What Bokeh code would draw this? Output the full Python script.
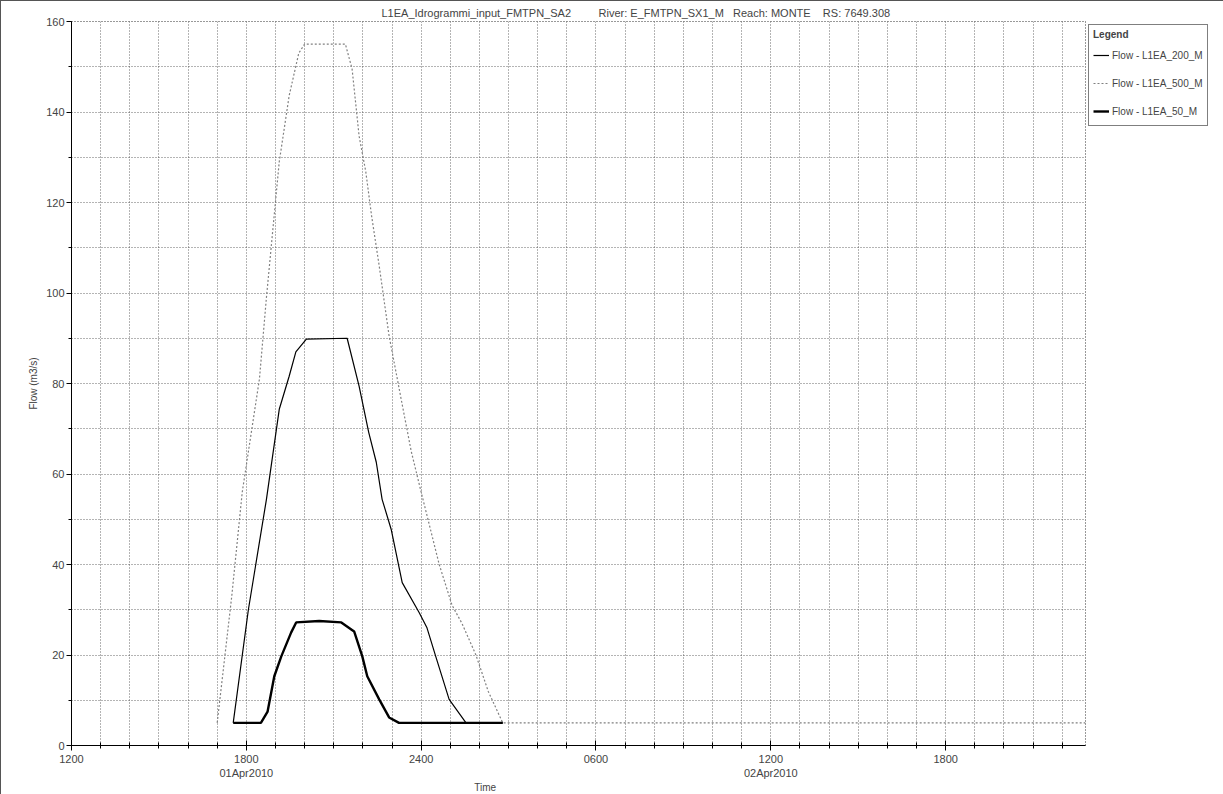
from bokeh.plotting import figure
from bokeh.models import Legend, LegendItem, SingleIntervalTicker, FixedTicker, LinearAxis, Range1d
from bokeh.embed import file_html
from bokeh.resources import INLINE

# hours since 01Apr2010 12:00
t_200 = [5.55, 6.07, 6.69, 7.13, 7.47, 7.7, 8.06, 9.46, 9.87, 10.2, 10.46, 10.66, 10.97, 11.35, 11.93, 12.2, 12.5, 12.96, 13.54, 14.8]
q_200 = [5, 30, 54.4, 74.3, 81.6, 87, 89.8, 90, 79.4, 69.2, 62.6, 54.4, 47.8, 36, 29.4, 26, 19.7, 10.2, 5, 5]

t_500 = [5.0, 5.5, 5.86, 6.45, 6.69, 7.13, 7.47, 7.8, 8.0, 9.4, 9.63, 9.87, 10.1, 10.3, 10.56, 10.9, 11.3, 11.66, 12.0, 12.62, 13.06, 13.4, 13.88, 14.3, 14.8, 34.8]
q_500 = [5, 33, 56, 81, 99, 129, 143.6, 153, 155, 155, 149.5, 134.7, 126.8, 117, 106, 90.5, 77, 65, 56, 40, 31, 27, 20, 12, 5, 5]

t_50 = [5.55, 6.5, 6.73, 6.96, 7.2, 7.54, 7.71, 8.5, 9.26, 9.7, 9.98, 10.15, 10.56, 10.9, 11.24, 14.8]
q_50 = [5, 5, 7.5, 15.3, 19.7, 25, 27.2, 27.5, 27.2, 25.2, 19.7, 15.3, 10.2, 6.2, 5, 5]

tick_hours = [0, 6, 12, 18, 24, 30]
tick_labels = ["1200", "1800\n01Apr2010", "2400", "0600", "1200\n02Apr2010", "1800"]
series_names = ["Flow - L1EA_200_M", "Flow - L1EA_500_M", "Flow - L1EA_50_M"]
NB = "\u00a0"
title_text = ("L1EA_Idrogrammi_input_FMTPN_SA2" + NB * 8 + " River: E_FMTPN_SX1_M" + NB * 2 +
              " Reach: MONTE" + NB * 3 + " RS: 7649.308")
x_label = "Time"
x_label_pos = 14.2

FONT = "Liberation Sans"

p = figure(frame_width=1014, frame_height=724, output_backend="svg", toolbar_location=None,
           x_range=Range1d(0, 34.8), y_range=Range1d(0, 160),
           min_border_left=70, min_border_bottom=4, min_border_top=10, min_border_right=4)
p.styles = {"border": "1px solid #555"}

p.title.text = title_text
p.title.align = "left"
p.title.offset = 310
p.title.text_font = FONT
p.title.text_font_size = "11px"
p.title.text_font_style = "normal"
p.title.standoff = 6

p.outline_line_color = "#333"
p.outline_line_dash = "1 2"

# axes
p.xaxis.ticker = FixedTicker(ticks=tick_hours, minor_ticks=list(range(0, 35)))
p.xaxis.major_label_overrides = {h: lab for h, lab in zip(tick_hours, tick_labels)}
p.xaxis.major_tick_in = 5
p.xaxis.major_tick_out = 5
p.xaxis.minor_tick_in = 3
p.xaxis.minor_tick_out = 3
p.xaxis.axis_line_color = "black"
p.xaxis.major_label_text_font = FONT
p.xaxis.major_label_text_font_size = "11px"
p.xaxis.major_label_standoff = 2

time_axis = LinearAxis(ticker=FixedTicker(ticks=[x_label_pos], minor_ticks=[]),
                       major_label_overrides={x_label_pos: x_label})
time_axis.axis_line_color = None
time_axis.major_tick_line_color = None
time_axis.minor_tick_line_color = None
time_axis.major_tick_in = 0
time_axis.major_tick_out = 0
time_axis.minor_tick_in = 0
time_axis.minor_tick_out = 0
time_axis.major_label_text_font = FONT
time_axis.major_label_text_font_size = "10px"
time_axis.major_label_standoff = 0
p.add_layout(time_axis, "below")

p.yaxis.ticker = SingleIntervalTicker(interval=20, num_minor_ticks=2)
p.yaxis.major_tick_in = 0
p.yaxis.major_tick_out = 5
p.yaxis.minor_tick_in = 0
p.yaxis.minor_tick_out = 3
p.yaxis.axis_line_color = "black"
p.yaxis.major_label_text_font = FONT
p.yaxis.major_label_text_font_size = "11px"
p.yaxis.major_label_standoff = 2
p.yaxis.axis_label = "Flow (m3/s)"
p.yaxis.axis_label_text_font = FONT
p.yaxis.axis_label_text_font_size = "10px"
p.yaxis.axis_label_text_font_style = "normal"
p.yaxis.axis_label_standoff = 4

# grids
p.xgrid.ticker = SingleIntervalTicker(interval=1)
p.ygrid.ticker = SingleIntervalTicker(interval=10)
for g in (p.xgrid, p.ygrid):
    g.grid_line_color = "#444"
    g.grid_line_dash = "1 2"
    g.grid_line_width = 1
    g.grid_line_alpha = 0.8

r200 = p.line(t_200, q_200, line_color="black", line_width=1.2)
r500 = p.line(t_500, q_500, line_color="#808080", line_width=1.2, line_dash="2 2")
r50 = p.line(t_50, q_50, line_color="black", line_width=2.4)

legend = Legend(items=[LegendItem(label=series_names[0], renderers=[r200]),
                       LegendItem(label=series_names[1], renderers=[r500]),
                       LegendItem(label=series_names[2], renderers=[r50])],
                title="Legend", location="top_left")
legend.title_text_font = FONT
legend.title_text_font_size = "10px"
legend.title_text_font_style = "bold"
legend.label_text_font = FONT
legend.label_text_font_size = "10px"
legend.border_line_color = "black"
legend.border_line_width = 1
legend.glyph_width = 16
legend.label_standoff = 3
legend.padding = 4
legend.spacing = 8
legend.margin = 3
p.add_layout(legend, "right")

open("out.html", "w").write(file_html(p, INLINE))
